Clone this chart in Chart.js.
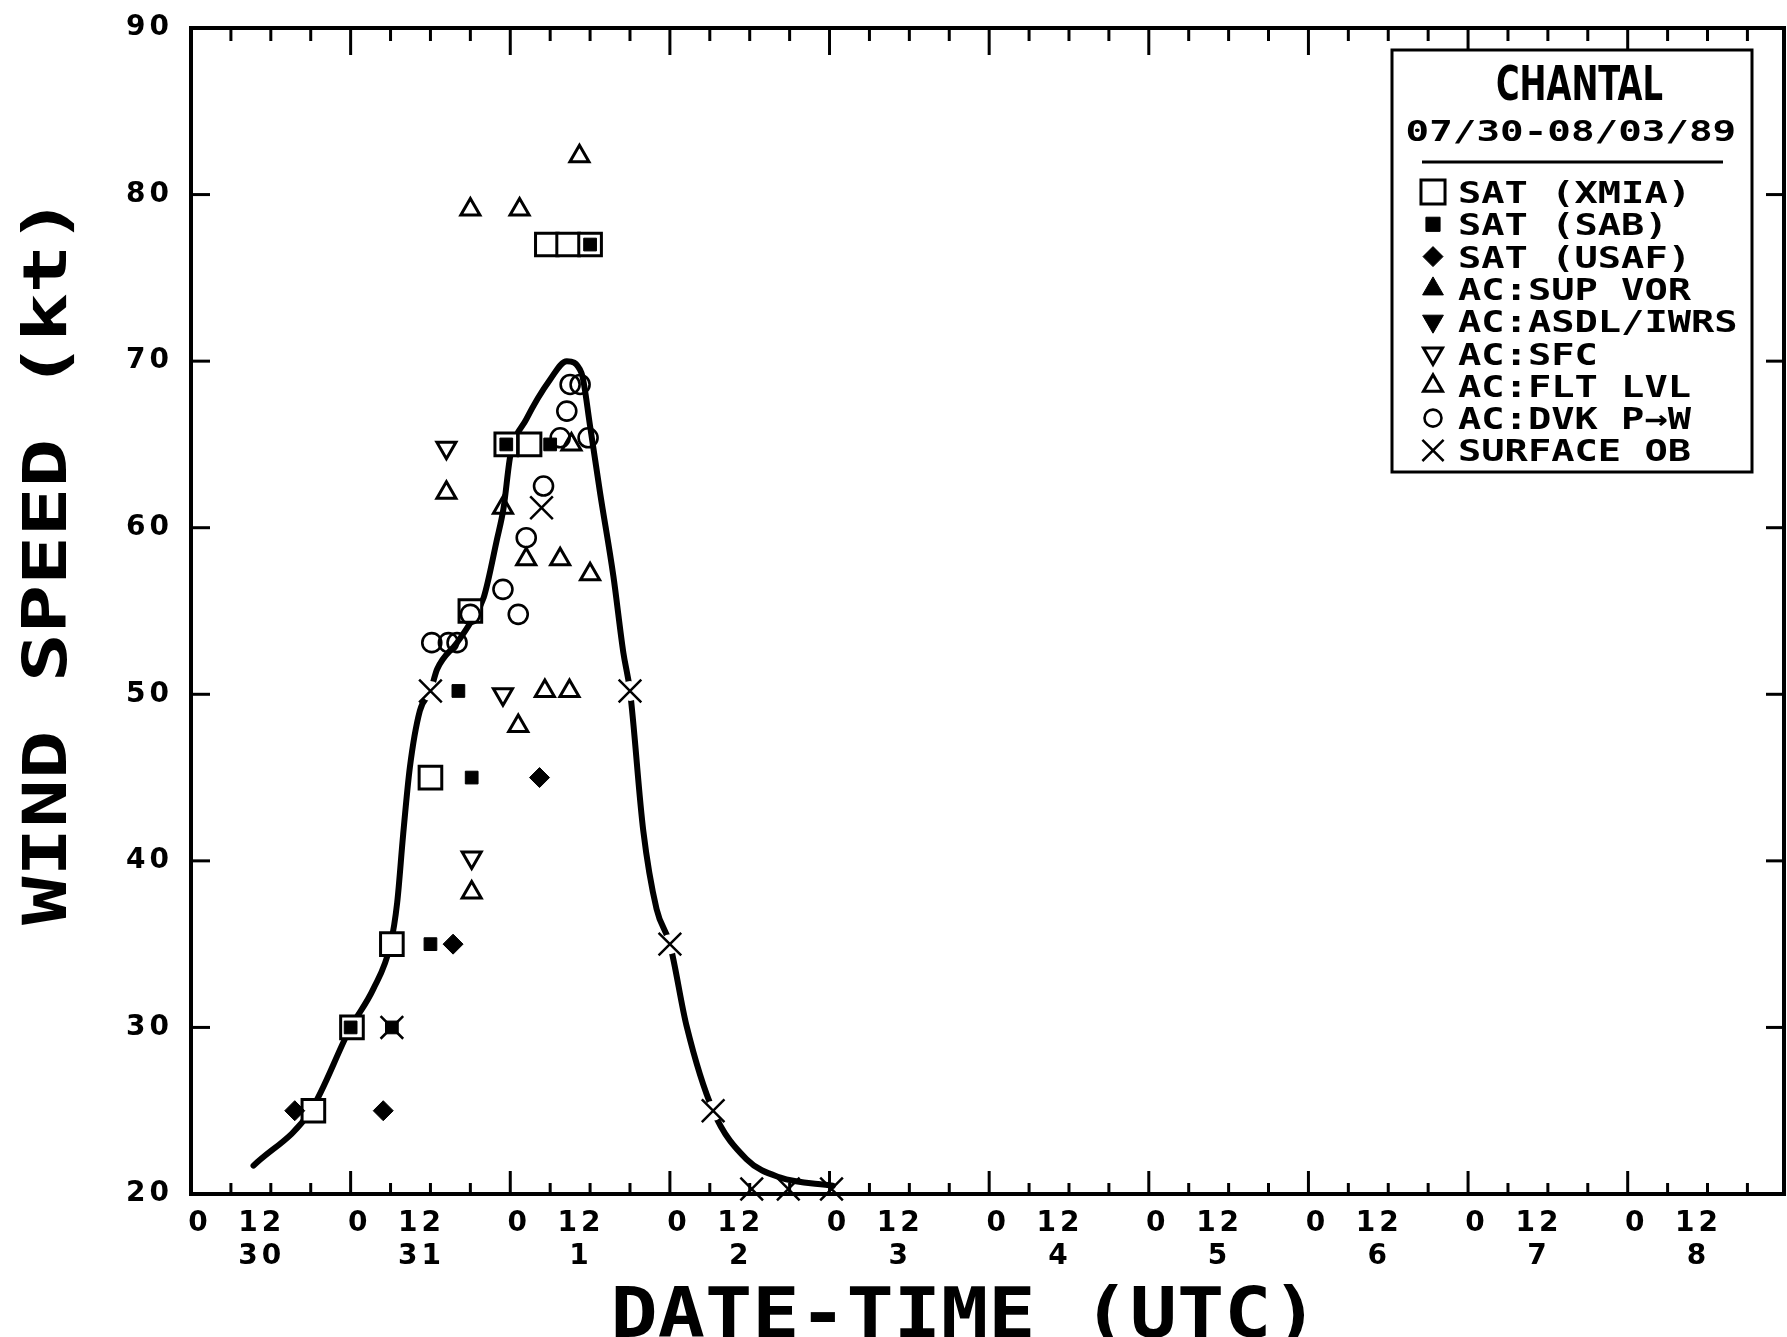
<!DOCTYPE html>
<html>
<head>
<meta charset="utf-8">
<script src="https://cdn.jsdelivr.net/npm/chart.js@4.4.1/dist/chart.umd.min.js"></script>
<style>
html,body{margin:0;padding:0;background:#fff;}
canvas{display:block;}
</style>
</head>
<body>
<canvas id="c" width="1787" height="1337"></canvas>
<script>
// x values: hours since 1989-07-30 00 UTC ; y values: wind speed (kt)
const dayLabels = ['30','31','1','2','3','4','5','6','7','8'];
const hourLabels = ['0','12'];
const yTickValues = [20,30,40,50,60,70,80,90];
const stormName = 'CHANTAL';
const stormDates = '07/30-08/03/89';
const xTitle = 'DATE-TIME (UTC)';
const yTitle = 'WIND SPEED (kt)';

const bestTrack = [[9.4,21.7],[18,25],[24,30],[27.4,32.3],[30,35],[31,37.5],[31.9,41.6],[32.9,45.6],[34.4,49],[36,50.2],[37,51.5],[40,53.1],[42,54.3],[44,55.8],[46,59.3],[47,61.2],[48,64.3],[50.4,66.5],[54,68.9],[56.5,70],[58.7,69.3],[60,66.1],[61.5,62.1],[63.5,57.1],[65,52.5],[66,50.2],[68,41.8],[70,37.1],[72,35],[74.5,30.1],[78.5,25],[83.5,22.1],[88.5,21],[96.5,20.5]];
const satXMIA = [[18.4,25],[24.2,30],[30.2,35],[36,45],[42,55],[47.4,65],[50.9,65],[53.5,77],[56.7,77],[60,77]];
const satSAB = [[24,30],[30.2,30],[36,35],[40.2,50.2],[42.2,45],[47.4,65],[54,65],[60,77]];
const satUSAF = [[15.6,25],[28.9,25],[39.4,35],[52.4,45]];
const acSupVor = [];
const acAsdl = [];
const acSfc = [[38.4,64.8],[46.9,50],[42.2,40.2]];
const acFltLvl = [[42,79.1],[49.4,79.1],[58.4,82.3],[38.4,62.1],[46.9,61.2],[50.4,58.1],[55.5,58.1],[60,57.2],[53.2,50.2],[56.9,50.2],[49.2,48.1],[42.2,38.1],[57.2,65]];
const acDvk = [[36.2,53.1],[38.7,53.1],[40,53.1],[42,54.8],[46.9,56.3],[49.2,54.8],[50.4,59.4],[53,62.5],[55.5,65.4],[56.5,67],[57,68.6],[58.5,68.6],[59.7,65.4]];
const surfaceOb = [[30.2,30],[36,50.2],[52.7,61.2],[66,50.2],[72,35],[78.5,25],[84.3,20.3],[89.8,20.3],[96.3,20.3]];

const legendOrder = ['SAT (XMIA)','SAT (SAB)','SAT (USAF)','AC:SUP VOR','AC:ASDL/IWRS','AC:SFC','AC:FLT LVL','AC:DVK P→W','SURFACE OB'];

const xTickValues = [];
dayLabels.forEach((d, i) => hourLabels.forEach(h => xTickValues.push(i * 24 + Number(h))));

const BLACK = '#000', WHITE = '#fff', NONE = 'rgba(0,0,0,0)';
function markers(label, data, style, radius, fill, border, order, legendRadius, rotation) {
  return {
    label, data, order, showLine: false, clip: false,
    pointStyle: style, pointRadius: radius, pointHoverRadius: radius,
    pointBackgroundColor: fill, pointBorderColor: BLACK, pointBorderWidth: border,
    pointRotation: rotation || 0, borderColor: BLACK, backgroundColor: fill,
    legendRadius
  };
}

const datasets = [
  markers('SURFACE OB', surfaceOb, 'crossRot', 16, BLACK, 2.5, 1, 15),
  markers('AC:DVK P→W', acDvk, 'circle', 9.5, NONE, 2.6, 2, 8.5),
  markers('AC:FLT LVL', acFltLvl, 'triangle', 11, NONE, 3, 3, 11),
  markers('AC:SFC', acSfc, 'triangle', 11, NONE, 3, 4, 11, 180),
  markers('AC:ASDL/IWRS', acAsdl, 'triangle', 11, BLACK, 1, 5, 12, 180),
  markers('AC:SUP VOR', acSupVor, 'triangle', 11, BLACK, 1, 6, 12),
  markers('SAT (USAF)', satUSAF, 'rectRot', 10, BLACK, 1, 7, 10),
  markers('SAT (SAB)', satSAB, 'rect', 9, BLACK, 1, 8, 10),
  markers('SAT (XMIA)', satXMIA, 'rect', 16, WHITE, 3, 9, 17),
  {
    label: 'gap', data: surfaceOb, order: 10, showLine: false, clip: false,
    pointStyle: 'circle', pointBackgroundColor: WHITE, pointBorderWidth: 0,
    pointRadius: c => (c.raw && c.raw[1] > 21 ? 10 : 0)
  },
  {
    label: 'best track', data: bestTrack, order: 11, showLine: true,
    borderColor: BLACK, borderWidth: 6, pointRadius: 0, fill: false,
    cubicInterpolationMode: 'monotone', borderCapStyle: 'round', borderJoinStyle: 'round'
  }
];

function drawFitted(ctx, text, cx, cy, width, font, rot) {
  ctx.save();
  ctx.letterSpacing = '0px';
  ctx.font = font;
  ctx.textAlign = 'center';
  ctx.textBaseline = 'alphabetic';
  const m = ctx.measureText(text);
  const w = m.actualBoundingBoxLeft + m.actualBoundingBoxRight;
  const asc = ctx.measureText('H').actualBoundingBoxAscent;
  ctx.translate(cx, cy);
  if (rot) ctx.rotate(rot);
  ctx.scale(width / w, 1);
  ctx.fillStyle = BLACK;
  ctx.fillText(text, (m.actualBoundingBoxLeft - m.actualBoundingBoxRight) / 2, asc / 2);
  ctx.restore();
}
function drawMono(ctx, text, x, cy, advance, font) {
  ctx.save();
  ctx.letterSpacing = '0px';
  ctx.font = font;
  ctx.textAlign = 'left';
  ctx.textBaseline = 'alphabetic';
  const adv = ctx.measureText('0').width;
  const asc = ctx.measureText('H').actualBoundingBoxAscent;
  ctx.translate(x, cy);
  ctx.scale(advance / adv, 1);
  ctx.fillStyle = BLACK;
  ctx.fillText(text, 0, asc / 2);
  ctx.restore();
}
function seg(ctx, x1, y1, x2, y2) { ctx.beginPath(); ctx.moveTo(x1, y1); ctx.lineTo(x2, y2); ctx.stroke(); }

const framePlugin = {
  id: 'framePlugin',
  beforeDraw(chart) { chart.ctx.letterSpacing = '4px'; },
  beforeDatasetsDraw(chart) {
    const ctx = chart.ctx, a = chart.chartArea, xs = chart.scales.x, ys = chart.scales.y;
    ctx.letterSpacing = '0px';
    ctx.save();
    ctx.strokeStyle = BLACK;
    ctx.lineWidth = 4;
    ctx.lineCap = 'square';
    ctx.strokeRect(a.left, a.top, a.right - a.left, a.bottom - a.top);
    ctx.lineWidth = 3;
    ctx.lineCap = 'butt';
    for (let h = 6; h < xs.max; h += 6) {
      const x = xs.getPixelForValue(h);
      const major = h % 24 === 0;
      seg(ctx, x, a.bottom, x, a.bottom - (major ? 23 : 11));
      seg(ctx, x, a.top, x, a.top + (major ? 27 : 13));
    }
    yTickValues.forEach(v => {
      if (v <= ys.min || v >= ys.max) return;
      const y = ys.getPixelForValue(v);
      seg(ctx, a.left, y, a.left + 19, y);
      seg(ctx, a.right, y, a.right - 18, y);
    });
    ctx.restore();
  },
  afterDraw(chart) {
    const ctx = chart.ctx;
    ctx.letterSpacing = '0px';
    drawFitted(ctx, yTitle, 43, 568, 714, 'bold 60px "DejaVu Sans Mono"', -Math.PI / 2);
    drawFitted(ctx, xTitle, 960, 1311, 690, 'bold 70px "DejaVu Sans Mono"', 0);
    ctx.save();
    ctx.fillStyle = WHITE;
    ctx.fillRect(1392, 50, 360, 422);
    ctx.strokeStyle = BLACK;
    ctx.lineWidth = 3;
    ctx.strokeRect(1392, 50, 360, 422);
    seg(ctx, 1422, 162, 1723, 162);
    ctx.restore();
    drawFitted(ctx, stormName, 1580, 82, 165, 'bold 48px "DejaVu Sans Condensed", "DejaVu Sans", sans-serif', 0);
    drawFitted(ctx, stormDates, 1571, 130, 328, 'bold 28px "DejaVu Sans Mono"', 0);
    const H = Chart.helpers;
    const rowY0 = 192, rowStep = 32.3;
    legendOrder.forEach((name, i) => {
      const ds = chart.data.datasets.find(d => d.label === name);
      if (!ds) return;
      const y = rowY0 + i * rowStep;
      ctx.save();
      ctx.fillStyle = ds.pointBackgroundColor;
      ctx.strokeStyle = BLACK;
      ctx.lineWidth = ds.pointBorderWidth;
      H.drawPoint(ctx, { pointStyle: ds.pointStyle, rotation: ds.pointRotation || 0, radius: ds.legendRadius, borderWidth: ds.pointBorderWidth }, 1433, y);
      ctx.restore();
      drawMono(ctx, ds.label, 1458, y, 23.3, 'bold 31px "DejaVu Sans Mono"');
    });
  }
};

const tickFont = { family: '"DejaVu Sans"', weight: 'bold', size: 28, lineHeight: 1.15 };

new Chart(document.getElementById('c'), {
  type: 'scatter',
  data: { datasets },
  plugins: [framePlugin],
  options: {
    responsive: false,
    devicePixelRatio: 1,
    animation: false,
    layout: { autoPadding: false, padding: { top: 28, right: 3, bottom: 0, left: 0 } },
    plugins: { legend: { display: false }, tooltip: { enabled: false } },
    scales: {
      x: {
        type: 'linear', position: 'bottom', min: 0, max: 239.5,
        afterBuildTicks: s => { s.ticks = xTickValues.map(v => ({ value: v })); },
        afterFit: s => { s.height = 143; s.paddingLeft = 0; s.paddingRight = 0; },
        grid: { drawOnChartArea: false, drawTicks: false },
        border: { display: false },
        ticks: {
          autoSkip: false, maxRotation: 0, minRotation: 0, padding: 14, color: BLACK, font: tickFont,
          callback: v => {
            const d = Math.floor(v / 24), h = v % 24;
            return h === 0 ? '\u2002' + hourLabels[0] : [hourLabels[1] + '\u2002', dayLabels[d] + '\u2002'];
          }
        }
      },
      y: {
        type: 'linear', position: 'left', min: 20, max: 90,
        afterBuildTicks: s => { s.ticks = yTickValues.map(v => ({ value: v })); },
        afterFit: s => { s.width = 191; s.paddingTop = 0; s.paddingBottom = 0; },
        grid: { drawOnChartArea: false, drawTicks: false },
        border: { display: false },
        ticks: { padding: 18, color: BLACK, font: tickFont, callback: v => String(v) }
      }
    }
  }
});
</script>
</body>
</html>
